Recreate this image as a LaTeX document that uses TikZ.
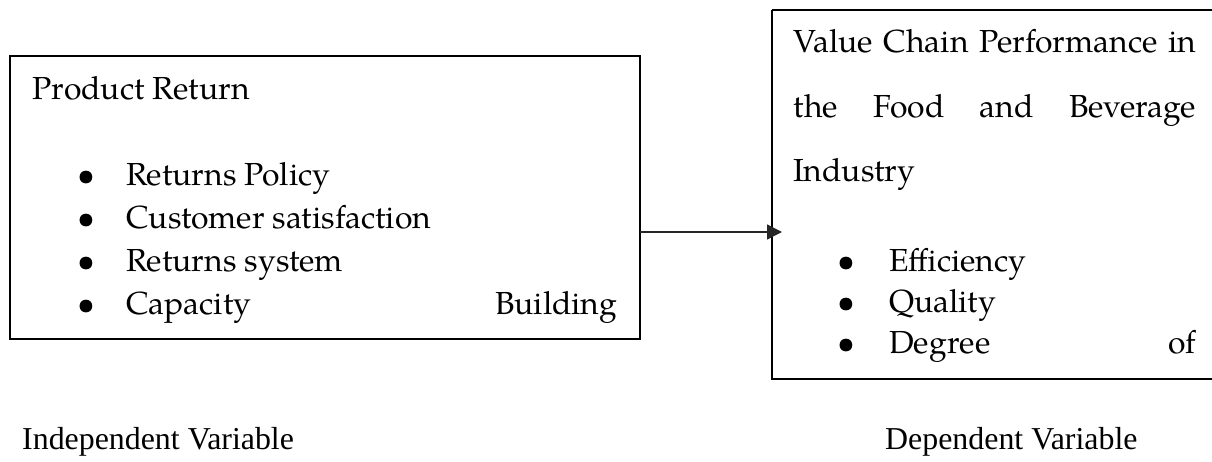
\documentclass[tikz,border=0pt]{standalone}
\usepackage{fontspec}
\setmainfont{TeX Gyre Pagella}
\newfontfamily\timesf{Liberation Serif}
\usetikzlibrary{arrows.meta}
\tikzset{
  boxline/.style={draw=black, line width=2.4bp},
  txt/.style={inner sep=0pt, anchor=base west, font=\fontsize{32}{34}\selectfont},
  bul/.style={inner sep=0pt, anchor=base, font=\fontsize{32}{34}\selectfont},
  lbl/.style={inner sep=0pt, anchor=base west, font=\timesf\fontsize{32}{34}\selectfont},
  conn/.style={draw=black!85, line width=1.7bp, -{Triangle[length=15bp,width=15bp]}}
}
\begin{document}
\begin{tikzpicture}[x=1bp,y=-1bp]
\useasboundingbox (0,0) rectangle (1212,462);
% boxes
\draw[boxline] (10,56) rectangle (640,339);
\coordinate (Lr) at (640,232);
\draw[boxline] (772,10) -- (1220,10);
\draw[boxline] (772,10) -- (772,379) -- (1220,379);
\coordinate (Rl) at (782,232);
% left box text
\node[txt] (pr) at (32,100) {Product Return};
\node[bul] (b1) at (86,186) {\textbullet};
\node[txt] (t1) at (126,186) {Returns Policy};
\node[bul] (b2) at (86,229) {\textbullet};
\node[txt] (t2) at (126,229) {Customer satisfaction};
\node[bul] (b3) at (86,272) {\textbullet};
\node[txt] (t3) at (126,272) {Returns system};
\node[bul] (b4) at (86,315) {\textbullet};
\node[txt] (t4) at (126,315) {\hbox to 491bp{Capacity\hfill Building}};
% right box text
\node[txt] (v1) at (793,53) {\hbox to 403bp{Value Chain Performance in}};
\node[txt] (v2) at (793,118) {\hbox to 403bp{the\hfill Food\hfill and\hfill Beverage}};
\node[txt] (v3) at (793,182) {Industry};
\node[bul] (c1) at (846,272) {\textbullet};
\node[txt] (e1) at (889,272) {Efficiency};
\node[bul] (c2) at (846,313) {\textbullet};
\node[txt] (e2) at (889,313) {Quality};
\node[bul] (c3) at (846,354) {\textbullet};
\node[txt] (e3) at (889,354) {\hbox to 307bp{Degree\hfill of}};
% labels
\node[lbl] (iv) at (22,450) {Independent Variable};
\node[lbl] (dv) at (885,450) {Dependent Variable};
% connector
\draw[conn] (Lr) -- (Rl);
\end{tikzpicture}
\end{document}
